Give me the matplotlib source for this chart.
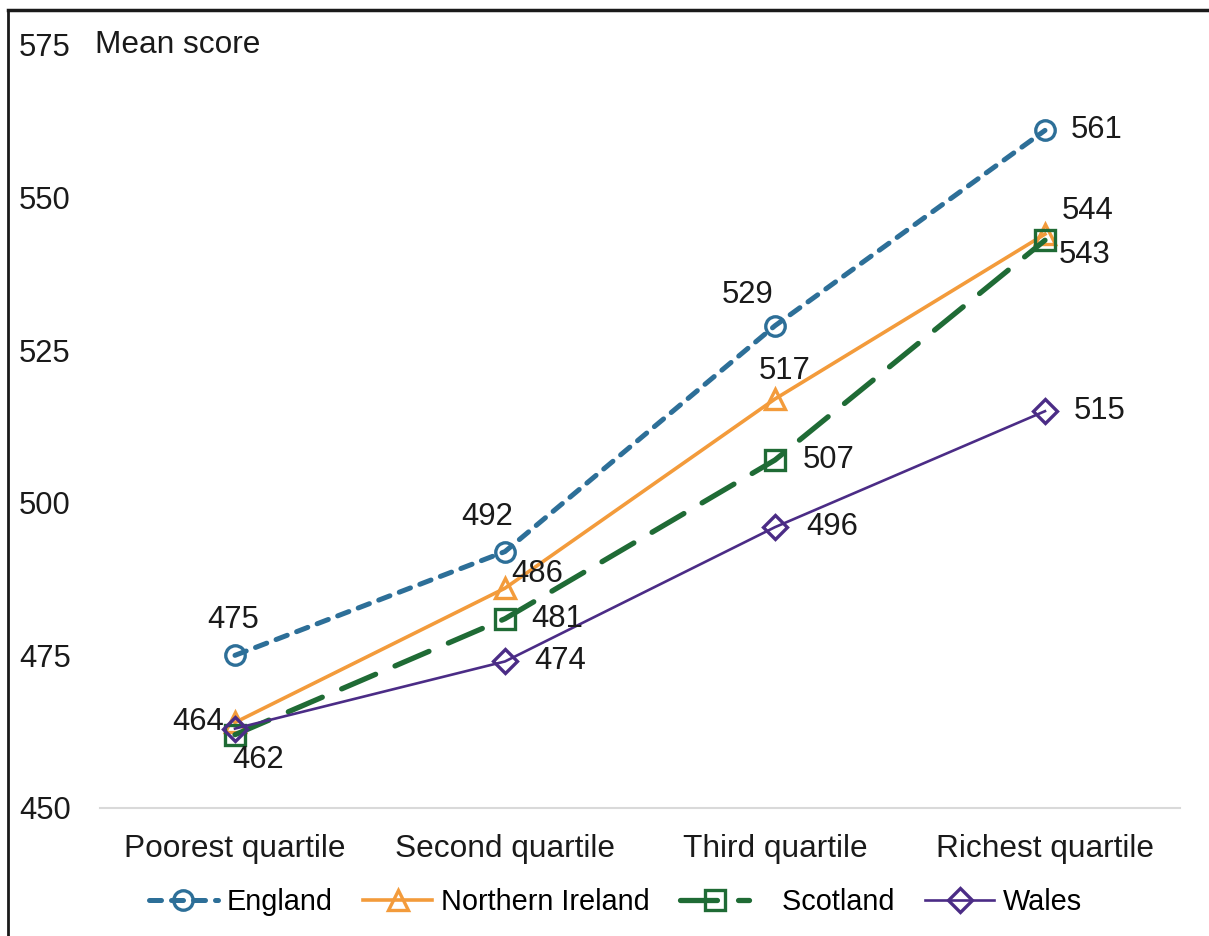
import matplotlib.pyplot as plt
from matplotlib.lines import Line2D

plt.rcParams['font.family'] = ['Liberation Sans', 'DejaVu Sans']

quartiles = ['Poorest quartile', 'Second quartile', 'Third quartile', 'Richest quartile']
england = [475, 492, 529, 561]
northern_ireland = [464, 486, 517, 544]
scotland = [462, 481, 507, 543]
wales = [463, 474, 496, 515]

# label offsets in pixels for each point (None = no label)
offsets = {
    'England': [(-2, 35), (-18, 35), (-27, 31), (52, 0)],
    'Northern Ireland': [(-37, 0), (32, 14), (10, 28), (43, 23)],
    'Scotland': [(23, -25), (52, 0), (54, 0), (40, -15)],
    'Wales': [None, (55, 0), (57, 0), (55, 0)],
}

fig = plt.figure(figsize=(12.09, 9.36), dpi=100)
ax = fig.add_axes([0.0827, 0.1368, 0.8933, 0.8152])

x = list(range(len(quartiles)))

series = [
    ('England', england, dict(color='#2D6F98', lw=3.6, ls=(0, (2.4, 2.0)), marker='o', ms=14,
                              dash_capstyle='round')),
    ('Northern Ireland', northern_ireland, dict(color='#F39B3B', lw=2.6, ls='-', marker='^', ms=15)),
    ('Scotland', scotland, dict(color='#1F6B35', lw=3.8, ls=(0, (7, 4)), marker='s', ms=15,
                                dash_capstyle='round')),
    ('Wales', wales, dict(color='#4B2C86', lw=1.9, ls='-', marker='D', ms=12)),
]

handles = []
for name, vals, style in series:
    line, = ax.plot(x, vals, fillstyle='none', mew=2.4, label=name, **style)
    handles.append(line)
    for xi, v, off in zip(x, vals, offsets[name]):
        if off is None:
            continue
        ax.annotate(str(v), (xi, v), xytext=(off[0] * 0.72, off[1] * 0.72), textcoords='offset points',
                    ha='center', va='center', fontsize=22.3, color='#1a1a1a')

ax.set_xlim(-0.5, 3.5)
ax.set_ylim(450, 575)
ax.set_yticks([450, 475, 500, 525, 550, 575])
ax.set_xticks(x)
ax.set_xticklabels(quartiles, fontsize=22.8)
ax.tick_params(axis='both', length=0, labelsize=22.3, colors='#1a1a1a')
ax.tick_params(axis='x', labelsize=22.8, pad=19)
ax.tick_params(axis='y', pad=21)
for side in ['left', 'right', 'top']:
    ax.spines[side].set_visible(False)
ax.spines['bottom'].set_color('#d9d9d9')
ax.spines['bottom'].set_linewidth(1.5)

ax.text(-0.519, 575, 'Mean score', ha='left', va='center', fontsize=22.8, color='#1a1a1a')

labels = ['England', 'Northern Ireland', '   Scotland', 'Wales']
fig.legend(handles, labels, loc='center', bbox_to_anchor=(0.509, 0.036), ncol=4, frameon=False,
           fontsize=20.8, handlelength=2.4, handletextpad=0.3, columnspacing=1.05)

# border lines at top and left
fig.add_artist(Line2D([0.0066, 1.0], [0.989, 0.989], color='#1a1a1a', lw=2.5, transform=fig.transFigure))
fig.add_artist(Line2D([0.0066, 0.0066], [0.0, 0.989], color='#1a1a1a', lw=2, transform=fig.transFigure))

fig.savefig('out.png', dpi=100)
